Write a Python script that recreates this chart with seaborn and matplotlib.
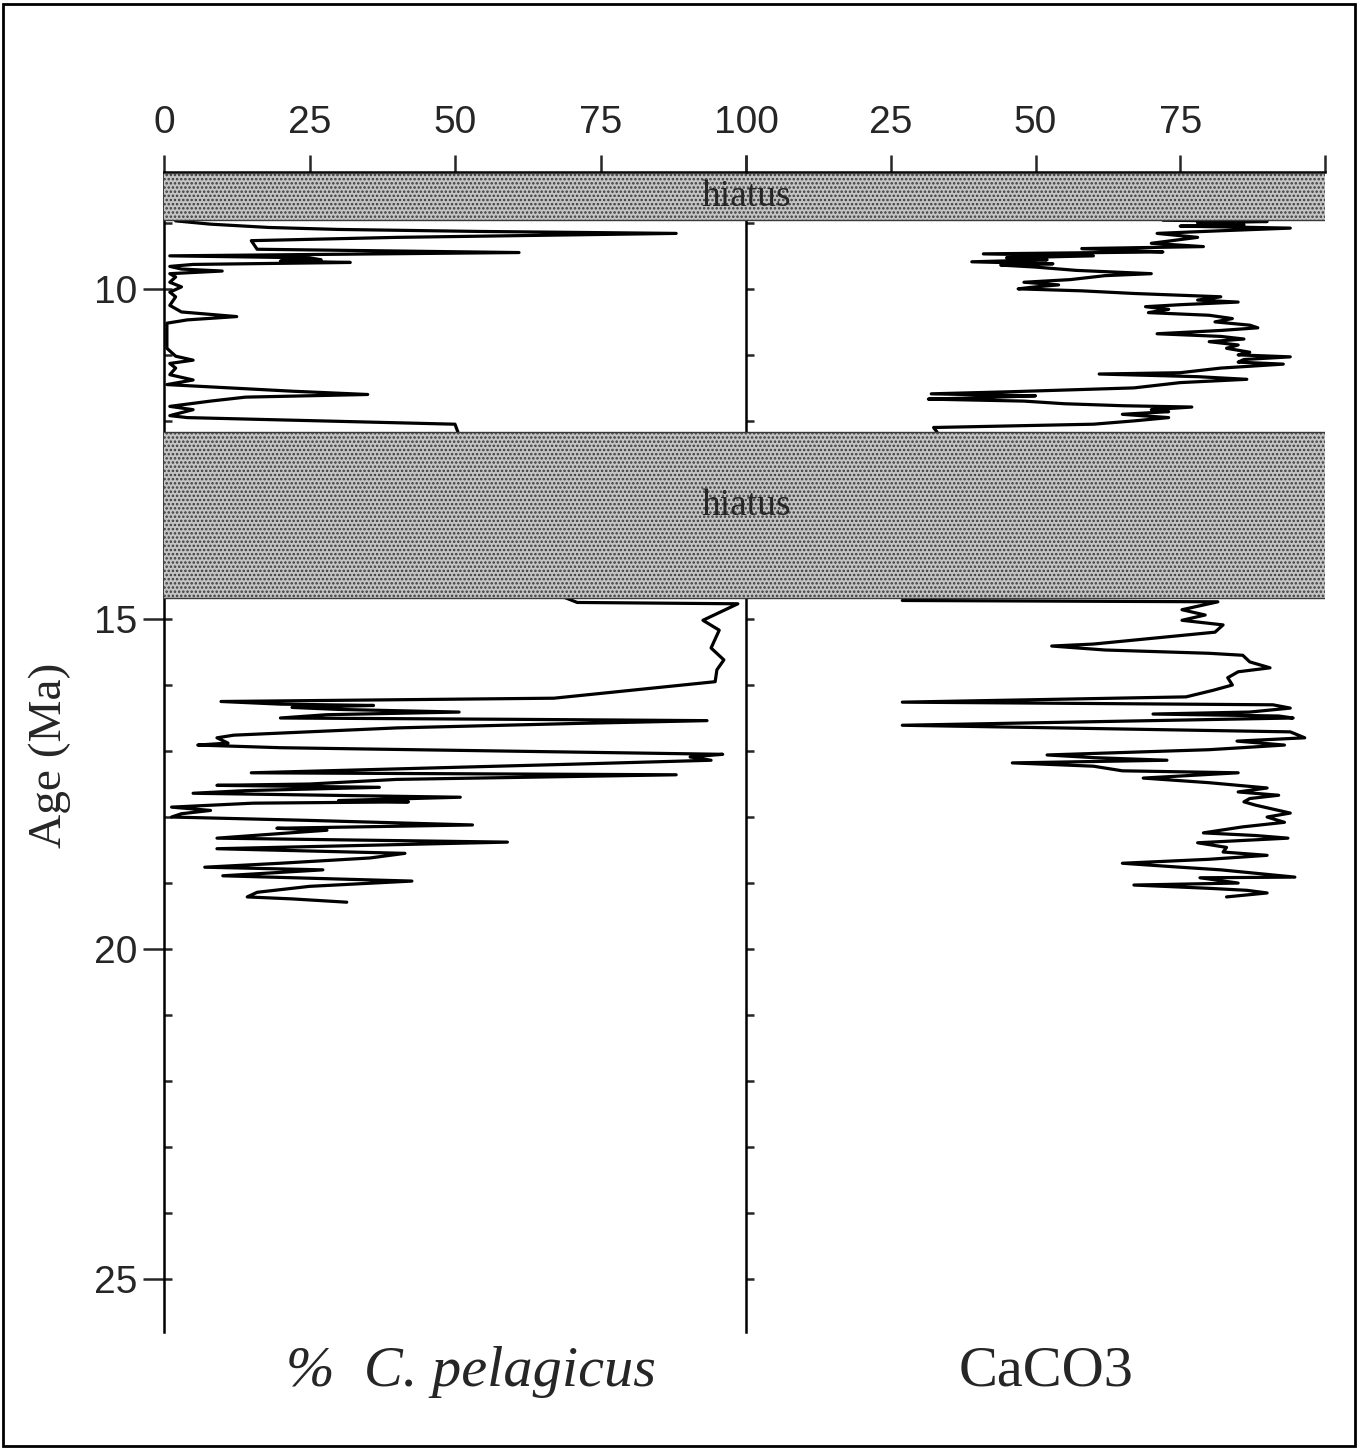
import matplotlib
matplotlib.use("Agg")
import matplotlib.pyplot as plt
from matplotlib.patches import Rectangle
from matplotlib.ticker import MultipleLocator
import seaborn as sns
import pandas as pd

# --- data: age (Ma) vs percent ---
pel_age_upper = [8.97, 9.02, 9.07, 9.10, 9.13, 9.16, 9.22, 9.27, 9.40, 9.45, 9.50, 9.53,
                 9.56, 9.58, 9.60, 9.63, 9.66, 9.70, 9.73, 9.77, 9.82, 9.90, 9.97, 10.05,
                 10.12, 10.25, 10.35, 10.42, 10.47, 10.52, 10.70, 10.90, 11.02, 11.08,
                 11.13, 11.20, 11.30, 11.38, 11.45, 11.55, 11.60, 11.64, 11.70, 11.78,
                 11.83, 11.92, 11.95, 12.05, 12.17]
pel_upper = [2, 8, 18, 30, 54, 88, 40, 15, 16, 61, 1, 25,
             27, 20, 32, 5, 1, 3, 10, 1, 2, 1, 3, 1,
             2, 1, 3, 12.5, 4, 0.5, 0.5, 0.5, 2, 5,
             1, 2, 1, 5, 0.5, 22, 35, 14, 8, 1,
             5, 1, 4, 50, 50.5]

pel_age_lower = [14.68, 14.75, 14.77, 15.02, 15.17, 15.44, 15.62, 15.77, 15.95, 16.20,
                 16.25, 16.29, 16.31, 16.34, 16.37, 16.41, 16.45, 16.50, 16.52, 16.54,
                 16.58, 16.65, 16.76, 16.80, 16.88, 16.91, 16.95, 17.05, 17.09, 17.14,
                 17.20, 17.33, 17.36, 17.43, 17.50, 17.52, 17.55, 17.60, 17.64, 17.70,
                 17.75, 17.77, 17.79, 17.85, 17.90, 17.95, 18.00, 18.05, 18.12, 18.17,
                 18.20, 18.25, 18.32, 18.38, 18.48, 18.55, 18.62, 18.70, 18.76, 18.80,
                 18.89, 18.97, 19.05, 19.14, 19.21, 19.24, 19.29]
pel_lower = [69, 71, 98.6, 92.6, 95.4, 94, 96.2, 95, 94.7, 67,
             9.8, 20, 36, 22, 30, 50.7, 28, 20, 60, 93.3,
             72, 40, 12, 9.1, 11, 5.8, 20, 96, 90.4, 94,
             70, 15, 88, 40, 25, 9.1, 37, 14, 5, 50.9,
             30, 42, 15.3, 1.3, 8, 3, 1.3, 24.5, 53, 19.4,
             28, 20, 9.1, 59, 9.1, 41.4, 35.4, 20, 7, 27.3,
             10.1, 42.6, 25, 16, 14.3, 22, 31.4]

caco3_age_upper = [8.96, 8.98, 9.00, 9.03, 9.05, 9.08, 9.12, 9.16, 9.22, 9.31, 9.36, 9.39,
                   9.42, 9.44, 9.47, 9.50, 9.53, 9.56, 9.59, 9.62, 9.64, 9.67, 9.72, 9.77,
                   9.80, 9.86, 9.90, 9.94, 9.97, 10.00, 10.03, 10.07, 10.12, 10.17, 10.20,
                   10.24, 10.27, 10.31, 10.36, 10.40, 10.45, 10.50, 10.55, 10.59, 10.63,
                   10.68, 10.72, 10.76, 10.80, 10.85, 10.90, 10.96, 11.00, 11.03, 11.07,
                   11.11, 11.14, 11.20, 11.27, 11.29, 11.33, 11.37, 11.42, 11.50, 11.56,
                   11.59, 11.62, 11.65, 11.67, 11.70, 11.74, 11.77, 11.79, 11.83, 11.86,
                   11.90, 11.95, 12.00, 12.05, 12.10, 12.17]
caco3_upper = [72, 90, 78, 86, 75, 94, 82, 71, 78, 70, 79, 58,
               66, 72, 41, 60, 45, 52, 39, 53, 44, 50, 57, 70,
               62, 56, 48, 54, 50, 47, 58, 67, 82, 78, 85,
               75, 69, 73, 69.5, 80, 84, 81, 87, 88.4, 82,
               71, 82, 86, 80, 85, 83, 87, 85, 94, 86,
               85, 92.8, 82, 75, 61, 78, 86.5, 75, 67, 45,
               32, 50, 40, 31.5, 48, 55, 65, 77, 70, 73,
               65, 73, 67, 60, 32.4, 33]

caco3_age_lower = [14.72, 14.74, 14.86, 14.94, 15.02, 15.09, 15.20, 15.38, 15.41, 15.47,
                   15.52, 15.55, 15.65, 15.74, 15.80, 15.89, 16.00, 16.08, 16.18, 16.26,
                   16.30, 16.35, 16.41, 16.44, 16.47, 16.50, 16.61, 16.71, 16.80, 16.85,
                   16.91, 16.98, 17.06, 17.10, 17.14, 17.18, 17.23, 17.30, 17.33, 17.41,
                   17.48, 17.56, 17.62, 17.67, 17.72, 17.77, 17.82, 17.88, 17.94, 18.00,
                   18.08, 18.15, 18.24, 18.28, 18.32, 18.39, 18.46, 18.53, 18.58, 18.64,
                   18.70, 18.76, 18.80, 18.91, 18.92, 19.00, 19.03, 19.08, 19.11, 19.15,
                   19.21]
caco3_lower = [27, 81.5, 75.3, 79.3, 75.3, 82.4, 81, 60, 52.8, 62,
               80, 85.8, 87, 90.5, 85, 83.2, 84, 80.7, 76, 27,
               91, 94, 87, 70.3, 92, 94.5, 27, 94, 96.5, 84.8,
               93, 80, 52, 60, 72.7, 46, 60, 65, 85, 68.6,
               80, 90, 85, 92, 87, 86, 88, 91, 94, 90,
               93, 85.7, 79, 88, 93.6, 78, 83, 82.4, 90, 80,
               65, 75, 82, 94.8, 78.4, 85, 67, 80, 86.5, 90,
               83]

hiatus_top = [8.25, 12.17]
hiatus_base = [8.95, 14.68]
hiatus_label_age = [8.61, 13.29]

x_ticks = [0, 25, 50, 75, 100]
left_x_labels = ["0", "25", "50", "75", "100"]
right_x_labels = ["", "25", "50", "75", ""]
age_major = [10, 15, 20, 25]
age_top, age_bottom = 8.23, 25.8

sns.set_style("white")
plt.rcParams["font.family"] = ["Liberation Sans", "DejaVu Sans"]
plt.rcParams["hatch.linewidth"] = 1.2
serif = ["Liberation Serif", "DejaVu Serif"]

fig = plt.figure(figsize=(13.59, 14.52), dpi=100)
W, H = 1359, 1452
bottom = 1 - 1332 / H
height = (1332 - 172) / H
ax1 = fig.add_axes([164 / W, bottom, 582 / W, height])
ax2 = fig.add_axes([746 / W, bottom, 579 / W, height])
# draw the right panel first so the left panel's hiatus bands hide the middle line
ax1.set_zorder(1)
ax2.set_zorder(0)
ax1.patch.set_alpha(0)
ax2.patch.set_alpha(0)

panels = [
    (ax1, pel_age_upper, pel_upper, pel_age_lower, pel_lower, left_x_labels),
    (ax2, caco3_age_upper, caco3_upper, caco3_age_lower, caco3_lower, right_x_labels),
]

for ax, ag_u, v_u, ag_l, v_l, xlabels in panels:
    for ag, v in [(ag_u, v_u), (ag_l, v_l)]:
        df = pd.DataFrame({"age": ag, "pct": v})
        sns.lineplot(data=df, x="pct", y="age", sort=False, estimator=None,
                     orient="y", color="black", lw=2.3, ax=ax)
    for t, b in zip(hiatus_top, hiatus_base):
        ax.axhspan(t, b, facecolor="#c4c4c4", edgecolor="#3a3a3a", hatch="....",
                   lw=0, zorder=4)
        ax.axhline(t, color="#3a3a3a", lw=1.0, zorder=4)
        ax.axhline(b, color="#3a3a3a", lw=1.0, zorder=4)
    ax.set_xlim(0, 100)
    ax.set_ylim(age_bottom, age_top)
    ax.xaxis.tick_top()
    ax.set_xticks(x_ticks)
    ax.set_xticklabels(xlabels)
    ax.tick_params(axis="x", direction="out", length=12, width=1.8, pad=10,
                   labelsize=28, top=True, bottom=False)
    for side in ["right", "bottom"]:
        ax.spines[side].set_visible(False)
    for side in ["left", "top"]:
        ax.spines[side].set_linewidth(1.8)
        ax.spines[side].set_color("black")
    ax.set_xlabel("")
    ax.set_ylabel("")

# left age axis
ax1.set_yticks(age_major)
ax1.yaxis.set_minor_locator(MultipleLocator(1))
ax1.yaxis.remove_overlapping_locs = False
ax1.tick_params(axis="y", which="major", direction="out", length=15, width=1.8,
                pad=4, labelsize=28, left=True)
ax1.tick_params(axis="y", which="minor", direction="in", length=6, width=1.8, left=True)

# middle line: small ticks every 1 Ma, no labels
ax2.set_yticks(range(9, 26))
ax2.tick_params(axis="y", which="major", direction="in", length=6, width=1.8,
                left=True, labelleft=False)

for ag in hiatus_label_age:
    fig.text(100, ag, "hiatus", transform=ax1.transData, ha="center", va="center",
             family=serif, fontsize=27, zorder=10)

fig.text(50 / W, 1 - 755 / H, "Age (Ma)", rotation=90, ha="center", va="center",
         family=serif, fontsize=34)
fig.text(471 / W, 1 - 1372 / H, "%  C. pelagicus", ha="center", va="center",
         family=serif, style="italic", fontsize=42)
fig.text(1046 / W, 1 - 1372 / H, "CaCO3", ha="center", va="center",
         family=serif, fontsize=42)

fig.patches.append(Rectangle((3 / W, 1 - 1446 / H), 1352 / W, 1442 / H,
                             transform=fig.transFigure, fill=False, lw=2,
                             edgecolor="black"))

fig.savefig("out.png", dpi=100)
